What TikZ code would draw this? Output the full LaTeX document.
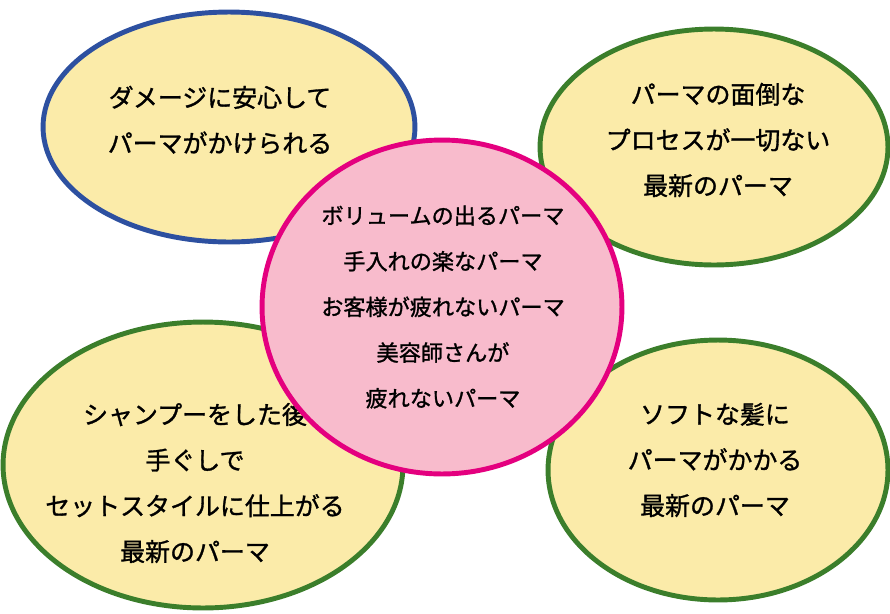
\documentclass[tikz,border=0pt]{standalone}
\usepackage{fontspec}
\newfontfamily\jpfont[FakeBold=1.2]{Noto Sans CJK JP}
\usetikzlibrary{shapes.geometric}
\definecolor{bubbleYellow}{HTML}{FBEBA9}
\definecolor{bubblePink}{HTML}{F8BBCC}
\definecolor{edgePink}{HTML}{E4007F}
\definecolor{edgeBlue}{HTML}{2D50A0}
\definecolor{edgeGreen}{HTML}{3B7E2B}
\tikzset{
  bubble/.style={ellipse, draw, line width=2.8pt, fill=bubbleYellow, inner sep=0pt},
  bubbletext/.style={align=center, inner sep=0pt, font=\jpfont\fontsize{14.2}{26}\selectfont},
}
\begin{document}
\begin{tikzpicture}[x=0.02cm, y=-0.02cm]
  \useasboundingbox (0,0) rectangle (890,613);
  % outer bubbles
  \node[bubble, draw=edgeBlue, minimum width=7.44cm, minimum height=4.6cm] (damage) at (229,127) {};
  \node[bubbletext] (damagetext) at (220,120) {ダメージに安心して\\パーマがかけられる};
  \node[bubble, draw=edgeGreen, minimum width=6.96cm, minimum height=4.72cm] (process) at (714,147) {};
  \node[bubbletext] (processtext) at (718,140) {パーマの面倒な\\プロセスが一切ない\\最新のパーマ};
  \node[bubble, draw=edgeGreen, minimum width=8cm, minimum height=5.72cm] (shampoo) at (203,465) {};
  \node[bubbletext] (shampootext) at (195,483) {シャンプーをした後\\手ぐしで\\セットスタイルに仕上がる\\最新のパーマ};
  \node[bubble, draw=edgeGreen, minimum width=6.8cm, minimum height=5.2cm] (soft) at (718,470) {};
  \node[bubbletext] (softtext) at (715,460) {ソフトな髪に\\パーマがかかる\\最新のパーマ};
  % center bubble
  \node[bubble, draw=edgePink, fill=bubblePink, minimum width=7.2cm, minimum height=6.68cm] (volume) at (442,307) {};
  \node[bubbletext, font=\jpfont\fontsize{12.6}{26}\selectfont] (volumetext) at (443,307) {ボリュームの出るパーマ\\手入れの楽なパーマ\\お客様が疲れないパーマ\\美容師さんが\\疲れないパーマ};
\end{tikzpicture}
\end{document}
